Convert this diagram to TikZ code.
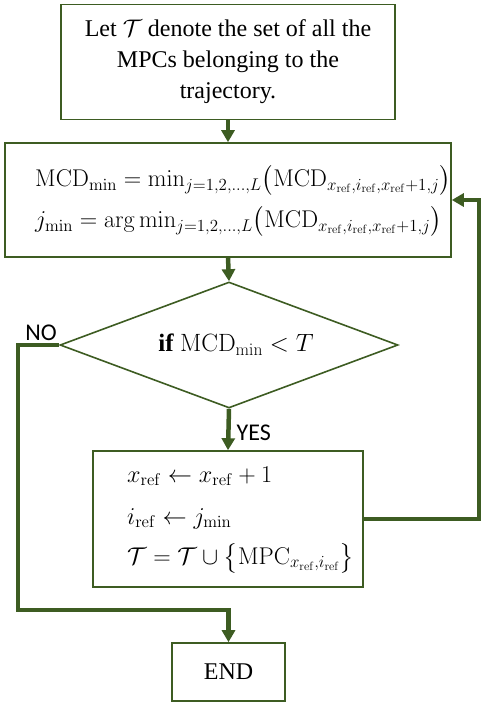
\documentclass[tikz,border=0pt]{standalone}
\usepackage{fix-cm}
\usepackage{amsmath}
\usepackage[no-math]{fontspec}
\setmainfont{Liberation Serif}
\newfontfamily\yesnofont{Carlito}
\usetikzlibrary{shapes.geometric,arrows.meta}
\definecolor{flowgreen}{RGB}{61,92,34}
\tikzset{
  box/.style={draw=flowgreen, line width=1.6pt, rectangle, inner sep=0pt},
  flow/.style={draw=flowgreen, line width=4.5pt},
  mathtext/.style={font=\rmfamily\fontsize{24.2}{28}\selectfont, align=left, inner sep=0pt},
  yesno/.style={font=\yesnofont\fontsize{24}{28}\selectfont, inner sep=0pt}
}
\newcommand{\traj}{\mathcal{T}}
\newcommand{\xref}{x_{\mathrm{ref}}}
\newcommand{\iref}{i_{\mathrm{ref}}}
\begin{document}
\begin{tikzpicture}[x=1pt, y=-1pt, >={Triangle[width=13pt,length=12pt]}]
    \useasboundingbox (0,0) rectangle (481,702);

    % 1. Boxes
    \node[box, minimum width=334pt, minimum height=115pt,
          font=\rmfamily\fontsize{24}{31}\selectfont, align=center] (init) at (228,62)
        {Let $\traj$ denote the set of all the\\MPCs belonging to the\\trajectory.};
    \node[box, minimum width=446pt, minimum height=114pt] (search) at (228,200) {};
    \node[mathtext, anchor=west] (searchtext) at (35,201)
        {$\mathrm{MCD}_{\min} = \min_{j=1,2,\ldots,L}\bigl(\mathrm{MCD}_{\xref,\iref,\xref+1,j}\bigr)$\\[10pt]
         $j_{\min} = \arg\min_{j=1,2,\ldots,L}\bigl(\mathrm{MCD}_{\xref,\iref,\xref+1,j}\bigr)$};
    \node[box, diamond, aspect=2.68, minimum width=338pt, minimum height=126pt] (test) at (229,345)
        {\rmfamily\fontsize{25}{30}\selectfont\hspace*{14pt}\textbf{if} $\mathrm{MCD}_{\min} < T$};
    \node[box, minimum width=270pt, minimum height=136pt] (update) at (228,519) {};
    \node[mathtext, anchor=west] (updatetext) at (127,520)
        {$\xref \leftarrow \xref + 1$\\[14pt]
         $\iref \leftarrow j_{\min}$\\[12pt]
         $\traj = \traj \cup \bigl\{\mathrm{MPC}_{\xref,\iref}\bigr\}$};
    \node[box, minimum width=113pt, minimum height=58pt,
          font=\rmfamily\fontsize{24}{28}\selectfont] (stop) at (228.5,672) {END};

    % 2. Corners of the loops
    \coordinate (back) at (479,200);
    \coordinate (nocorner) at (18,610);

    % 3. Connectors
    \draw[flow, ->] (init.south) -- (search.north);
    \draw[flow, ->] (search.south) -- (test.north);
    \draw[flow, ->] (test.south) -- (update.north)
        node[yesno, pos=0.58, right=6pt] (yes) {YES};
    \draw[flow, ->] (update.east) -| (back) -- (search.east);
    \draw[flow, ->] (test.west) -| (nocorner) -| (stop.north);
    \node[yesno] (no) at (41,333) {NO};
\end{tikzpicture}
\end{document}
